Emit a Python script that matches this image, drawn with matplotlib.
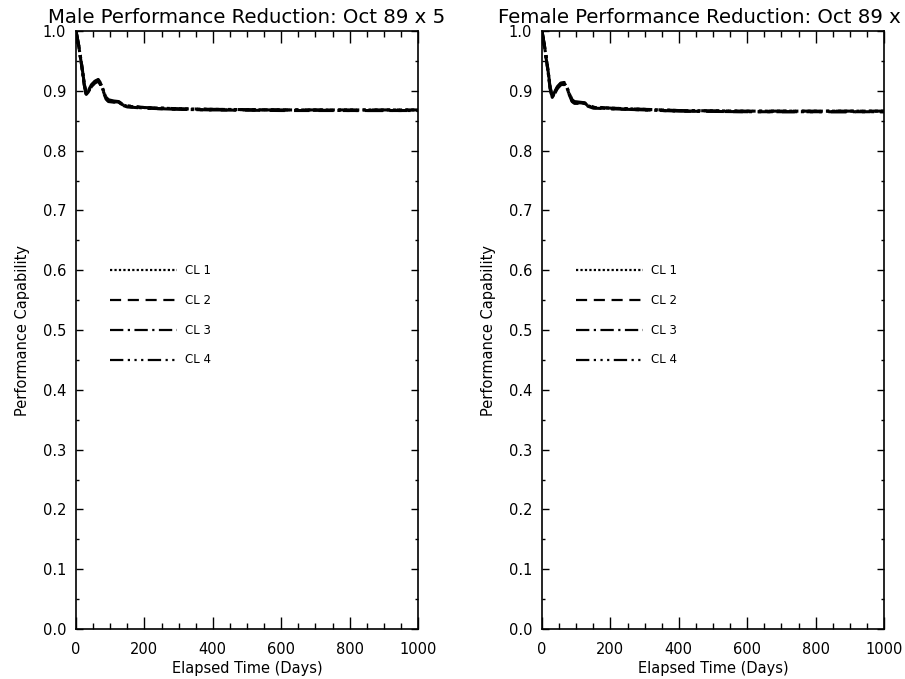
import numpy as np
import matplotlib
matplotlib.use("Agg")
import matplotlib.pyplot as plt
from matplotlib.ticker import MultipleLocator

days = [0, 8, 16, 24, 30, 36, 45, 55, 65, 72, 80, 88, 95, 110, 125, 135, 150,
        200, 300, 400, 600, 800, 1000]

# Male performance capability, confidence levels 1-4
male_cl1 = [1.0, 0.975, 0.945, 0.912, 0.895, 0.899, 0.909, 0.915, 0.918, 0.912,
            0.900, 0.888, 0.884, 0.882, 0.881, 0.877, 0.874, 0.872, 0.870, 0.869,
            0.868, 0.868, 0.868]
male_cl2 = [1.0, 0.974, 0.944, 0.910, 0.893, 0.897, 0.907, 0.913, 0.916, 0.910,
            0.898, 0.886, 0.882, 0.881, 0.880, 0.876, 0.873, 0.871, 0.869, 0.868,
            0.867, 0.867, 0.867]
male_cl3 = [1.0, 0.976, 0.946, 0.913, 0.896, 0.900, 0.910, 0.916, 0.919, 0.913,
            0.901, 0.889, 0.885, 0.883, 0.882, 0.878, 0.875, 0.872, 0.870, 0.869,
            0.868, 0.868, 0.868]
male_cl4 = [1.0, 0.975, 0.945, 0.911, 0.894, 0.898, 0.908, 0.914, 0.917, 0.911,
            0.899, 0.887, 0.883, 0.882, 0.881, 0.877, 0.874, 0.871, 0.869, 0.868,
            0.868, 0.867, 0.867]

# Female performance capability, confidence levels 1-4
female_cl1 = [1.0, 0.972, 0.940, 0.905, 0.890, 0.896, 0.906, 0.912, 0.913, 0.906,
              0.895, 0.884, 0.881, 0.880, 0.879, 0.875, 0.872, 0.871, 0.869, 0.867,
              0.866, 0.866, 0.866]
female_cl2 = [1.0, 0.971, 0.939, 0.903, 0.888, 0.894, 0.904, 0.910, 0.911, 0.904,
              0.893, 0.882, 0.879, 0.879, 0.878, 0.874, 0.871, 0.870, 0.868, 0.866,
              0.865, 0.865, 0.865]
female_cl3 = [1.0, 0.973, 0.941, 0.906, 0.891, 0.897, 0.907, 0.913, 0.914, 0.907,
              0.896, 0.885, 0.882, 0.881, 0.880, 0.876, 0.873, 0.871, 0.869, 0.867,
              0.866, 0.866, 0.866]
female_cl4 = [1.0, 0.972, 0.940, 0.904, 0.889, 0.895, 0.905, 0.911, 0.912, 0.905,
              0.894, 0.883, 0.880, 0.880, 0.879, 0.875, 0.872, 0.870, 0.868, 0.866,
              0.865, 0.865, 0.865]

cl_labels = ["CL 1", "CL 2", "CL 3", "CL 4"]
cl_styles = [(0, (1, 1)), (0, (5, 3)), (0, (6, 2, 1, 2)), (0, (6, 2, 1, 2, 1, 2, 1, 2))]
legend_y = [0.60, 0.55, 0.50, 0.45]
legend_x = [100, 295]
legend_text_x = 318

# the right-hand title runs off the page in the original, only the visible part is kept
titles = ["Male Performance Reduction: Oct 89 x 5",
          "Female Performance Reduction: Oct 89 x"]

plt.rcParams["font.family"] = "DejaVu Sans"

fig = plt.figure(figsize=(9.05, 6.79), dpi=100)
ax_l = fig.add_axes([76 / 905, 50 / 679, 342 / 905, 598 / 679])
ax_r = fig.add_axes([542 / 905, 50 / 679, 342 / 905, 598 / 679])

panels = [(ax_l, [male_cl1, male_cl2, male_cl3, male_cl4], titles[0]),
          (ax_r, [female_cl1, female_cl2, female_cl3, female_cl4], titles[1])]

for i, (ax, series, title) in enumerate(panels):
    for vals, ls in zip(series, cl_styles):
        ax.plot(days, vals, color="black", lw=2.2, ls=ls)
    # IDL style legend drawn inside the plot
    for lab, ls, y in zip(cl_labels, cl_styles, legend_y):
        ax.plot(legend_x, [y, y], color="black", lw=1.6, ls=ls)
        ax.text(legend_text_x, y, lab, fontsize=8.5, va="center", ha="left")

    ax.set_xlim(0, 1000)
    ax.set_ylim(0, 1.0)
    ax.xaxis.set_major_locator(MultipleLocator(200))
    ax.xaxis.set_minor_locator(MultipleLocator(50))
    ax.yaxis.set_major_locator(MultipleLocator(0.1))
    ax.yaxis.set_minor_locator(MultipleLocator(0.05))
    ax.yaxis.set_major_formatter(plt.FormatStrFormatter("%.1f"))
    ax.tick_params(axis="x", which="major", direction="in", top=True, length=8.5,
                   width=1.0, labelsize=10.5, pad=9)
    ax.tick_params(axis="x", which="minor", direction="in", top=True, length=4.3, width=1.0)
    ax.tick_params(axis="y", which="major", direction="in", right=True, length=5,
                   width=1.0, labelsize=10.5, pad=7)
    ax.tick_params(axis="y", which="minor", direction="in", right=True, length=2.5, width=1.0)
    for sp in ax.spines.values():
        sp.set_linewidth(1.2)
    ax.set_xlabel("Elapsed Time (Days)", fontsize=10.5, labelpad=3)
    ax.set_ylabel("Performance Capability", fontsize=10.5, labelpad=9)
    if i == 0:
        ax.set_title(title, fontsize=14.2, pad=6)
    else:
        ax.set_title(title, fontsize=14.2, pad=6, loc="left", x=-0.128)

fig.savefig("out.png", dpi=100)
